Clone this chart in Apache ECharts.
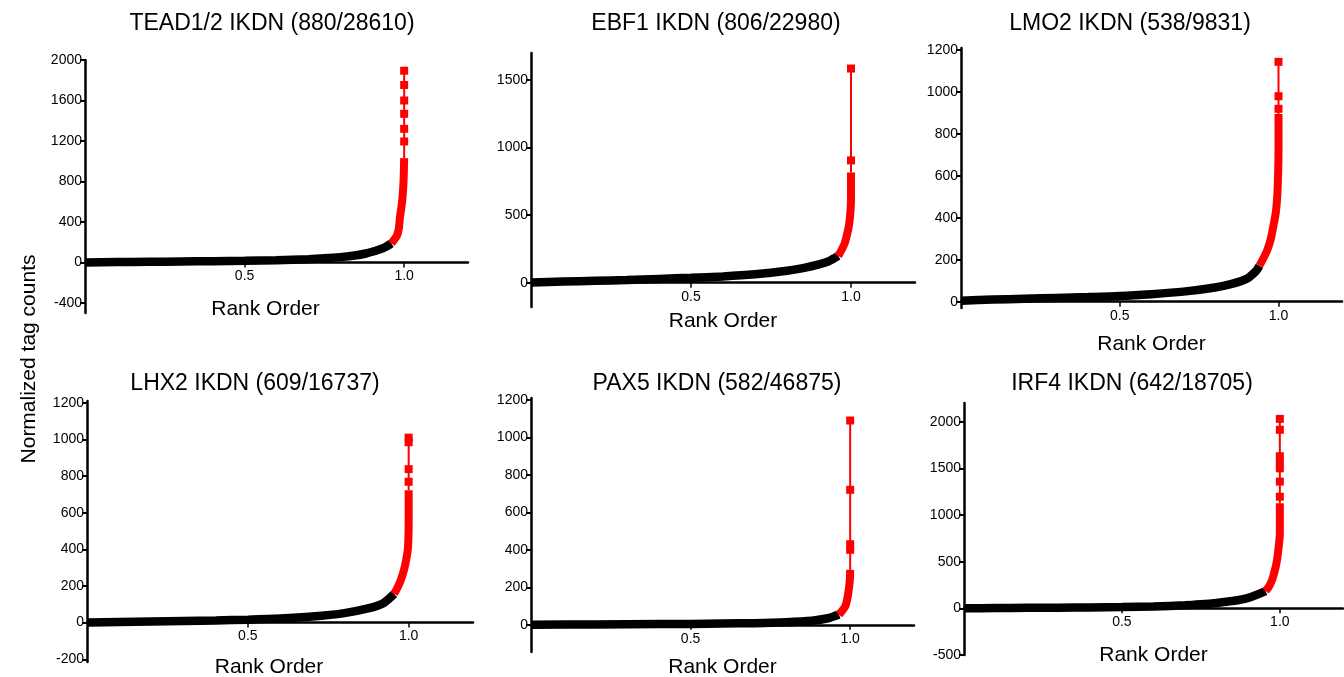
<!DOCTYPE html>
<html>
<head>
<meta charset="utf-8">
<title>IKDN rank order</title>
<script src="https://cdn.jsdelivr.net/npm/echarts@6/dist/echarts.min.js"></script>
<style>
  html, body { margin: 0; padding: 0; background: #fff; }
  #main { width: 1344px; height: 677px; }
</style>
</head>
<body>
<div id="main"></div>
<script>
// 六个面板的标题
const TITLES = [
    'TEAD1/2 IKDN (880/28610)',
    'EBF1 IKDN (806/22980)',
    'LMO2 IKDN (538/9831)',
    'LHX2 IKDN (609/16737)',
    'PAX5 IKDN (582/46875)',
    'IRF4 IKDN (642/18705)'
]

// x 轴刻度
const X_TICKS = [0.5, 1.0]

// y 轴刻度 (每个面板)
const Y_TICKS = [
    [-400, 0, 400, 800, 1200, 1600, 2000],
    [0, 500, 1000, 1500],
    [0, 200, 400, 600, 800, 1000, 1200],
    [-200, 0, 200, 400, 600, 800, 1000, 1200],
    [0, 200, 400, 600, 800, 1000, 1200],
    [-500, 0, 500, 1000, 1500, 2000]
]
const Y_RANGE = [[-500, 2000], [-180, 1700], [-30, 1210], [-215, 1210], [-145, 1210], [-500, 2200]]

// 黑色部分 [rank, count]
const teadBlack = [[0, 0], [0.1, 3], [0.2, 6], [0.3, 9], [0.4, 12], [0.5, 16], [0.6, 22], [0.7, 32], [0.75, 40], [0.8, 52], [0.85, 70], [0.88, 88], [0.9, 105], [0.92, 125], [0.94, 150], [0.96, 188]]
const ebf1Black = [[0, 2], [0.1, 8], [0.2, 14], [0.3, 20], [0.4, 28], [0.5, 36], [0.6, 46], [0.7, 62], [0.8, 88], [0.85, 108], [0.9, 135], [0.93, 158], [0.96, 198]]
const lmo2Black = [[0, 5], [0.1, 10], [0.2, 14], [0.3, 18], [0.4, 22], [0.5, 27], [0.6, 36], [0.7, 48], [0.8, 68], [0.85, 84], [0.9, 110], [0.93, 148], [0.94, 172]]
const lhx2Black = [[0, 0], [0.1, 3], [0.2, 6], [0.3, 9], [0.4, 12], [0.5, 16], [0.6, 22], [0.7, 33], [0.8, 52], [0.87, 76], [0.92, 105], [0.955, 157]]
const pax5Black = [[0, 0], [0.2, 2], [0.4, 4], [0.5, 5], [0.6, 7], [0.7, 9], [0.8, 14], [0.88, 22], [0.93, 35], [0.965, 55]]
const irf4Black = [[0, 0], [0.1, 3], [0.2, 5], [0.3, 7], [0.4, 10], [0.5, 14], [0.6, 20], [0.7, 32], [0.75, 43], [0.8, 58], [0.85, 78], [0.9, 112], [0.955, 185]]

// 红色部分 (top peaks)
const teadRed = [[0.96, 188], [0.97, 230], [0.977, 262], [0.983, 330], [0.987, 450], [0.992, 560], [0.995, 650], [0.998, 800], [1.0, 1030]]
const ebf1Red = [[0.96, 198], [0.97, 240], [0.98, 290], [0.988, 360], [0.994, 430], [0.998, 520], [1.0, 620], [1.0, 815]]
const lmo2Red = [[0.94, 172], [0.95, 200], [0.963, 240], [0.975, 295], [0.985, 370], [0.991, 420], [0.995, 480], [0.997, 530], [0.999, 620], [1.0, 710], [1.0, 895]]
const lhx2Red = [[0.955, 157], [0.965, 190], [0.975, 230], [0.985, 285], [0.992, 340], [0.998, 413], [1.0, 560], [1.0, 723]]
const pax5Red = [[0.965, 55], [0.975, 75], [0.985, 100], [0.99, 130], [0.995, 180], [0.999, 240], [1.0, 293]]
const irf4Red = [[0.955, 185], [0.965, 230], [0.975, 300], [0.982, 380], [0.988, 460], [0.993, 560], [0.997, 680], [1.0, 800], [1.0, 1125]]

// 最高的几个点 (方块)
const teadTop = [[1.0, 1030], [1.0, 1195], [1.0, 1320], [1.0, 1468], [1.0, 1600], [1.0, 1753], [1.0, 1894]]
const ebf1Top = [[1.0, 815], [1.0, 905], [1.0, 1585]]
const lmo2Top = [[1.0, 895], [1.0, 920], [1.0, 980], [1.0, 1144]]
const lhx2Top = [[1.0, 723], [1.0, 769], [1.0, 838], [1.0, 985], [1.0, 1010]]
const pax5Top = [[1.0, 293], [1.0, 400], [1.0, 430], [1.0, 720], [1.0, 1090]]
const irf4Top = [[1.0, 1125], [1.0, 1196], [1.0, 1358], [1.0, 1500], [1.0, 1570], [1.0, 1630], [1.0, 1913], [1.0, 2030]]

const BLACK = [teadBlack, ebf1Black, lmo2Black, lhx2Black, pax5Black, irf4Black]
const RED = [teadRed, ebf1Red, lmo2Red, lhx2Red, pax5Red, irf4Red]
const TOP = [teadTop, ebf1Top, lmo2Top, lhx2Top, pax5Top, irf4Top]

// 布局
const GRIDS = [
    { left: 85, top: 60, width: 383, height: 253 },
    { left: 531, top: 53, width: 384, height: 254 },
    { left: 961, top: 48, width: 381, height: 260 },
    { left: 87, top: 401, width: 386, height: 261 },
    { left: 531, top: 398, width: 383, height: 254 },
    { left: 964, top: 403, width: 379, height: 252 }
]
const TITLE_POS = [[272, 24], [716, 24], [1130, 24], [255, 384], [717, 384], [1132, 384]]
const NAME_GAP = [36, 28, 32, 34, 32, 36]
const FONT = '"Liberation Sans", Arial, Helvetica, sans-serif'

var chart = echarts.init(document.getElementById('main'))

var grid = [], xAxis = [], yAxis = [], series = [], graphic = []

for (let i = 0; i < 6; i++) {
    grid.push(Object.assign({ outerBoundsMode: 'none', containLabel: false }, GRIDS[i]))
    // x 轴放在 y=0 处 (用 offset 往上移)
    const zeroOffset = GRIDS[i].height * (0 - Y_RANGE[i][0]) / (Y_RANGE[i][1] - Y_RANGE[i][0])
    xAxis.push({
        type: 'value',
        gridIndex: i,
        position: 'bottom',
        offset: -zeroOffset,
        min: 0,
        max: 1.2,
        name: 'Rank Order',
        nameLocation: 'middle',
        nameGap: NAME_GAP[i],
        nameTextStyle: {
            fontSize: 21,
            color: '#000',
            fontFamily: FONT,
            padding: (i === 0 || i === 3) ? [0, 22, 0, 0] : 0
        },
        axisLine: { show: true, onZero: false, lineStyle: { color: '#000', width: 2.5 } },
        axisTick: { show: true, length: 5, lineStyle: { color: '#000', width: 1.5 }, customValues: X_TICKS },
        axisLabel: {
            fontSize: 14, color: '#000', fontFamily: FONT, margin: 7,
            customValues: X_TICKS,
            formatter: function (v) { return v.toFixed(1) }
        },
        splitLine: { show: false }
    })
    yAxis.push({
        type: 'value',
        gridIndex: i,
        min: Y_RANGE[i][0],
        max: Y_RANGE[i][1],
        axisLine: { show: true, onZero: false, lineStyle: { color: '#000', width: 2.5 } },
        axisTick: { show: true, length: 5, lineStyle: { color: '#000', width: 2 }, customValues: Y_TICKS[i] },
        axisLabel: {
            fontSize: 14, color: '#000', fontFamily: FONT, margin: 3,
            customValues: Y_TICKS[i],
            formatter: function (v) { return String(v) }
        },
        splitLine: { show: false }
    })
    // 黑色粗线
    series.push({
        type: 'line', xAxisIndex: i, yAxisIndex: i,
        data: BLACK[i], showSymbol: false, smooth: 0.25, clip: false,
        lineStyle: { color: '#000', width: 8.5 },
        silent: true
    })
    // 红色粗线
    series.push({
        type: 'line', xAxisIndex: i, yAxisIndex: i,
        data: RED[i], showSymbol: false, smooth: 0.25, clip: false,
        lineStyle: { color: '#ff0000', width: 8 },
        silent: true
    })
    // 顶部方块 + 细线
    series.push({
        type: 'line', xAxisIndex: i, yAxisIndex: i,
        data: TOP[i].slice(1), clip: false,
        symbol: 'rect', symbolSize: 8, showAllSymbol: true,
        itemStyle: { color: '#ff0000' },
        lineStyle: { color: '#ff0000', width: 2 },
        silent: true
    })
    series.push({
        type: 'line', xAxisIndex: i, yAxisIndex: i,
        data: TOP[i].slice(0, 2), showSymbol: false, clip: false,
        lineStyle: { color: '#ff0000', width: 2 },
        silent: true
    })
    graphic.push({
        type: 'text',
        x: TITLE_POS[i][0],
        y: TITLE_POS[i][1],
        style: {
            text: TITLES[i],
            fontSize: 23,
            fontFamily: FONT,
            fill: '#000',
            align: 'center',
            verticalAlign: 'middle'
        }
    })
}

// 左侧公共 y 轴标题
graphic.push({
    type: 'text',
    x: 29,
    y: 359,
    rotation: Math.PI / 2,
    style: {
        text: 'Normalized tag counts',
        fontSize: 21,
        fontFamily: FONT,
        fill: '#000',
        align: 'center',
        verticalAlign: 'middle'
    }
})

option = {
    backgroundColor: '#fff',
    animation: false,
    grid: grid,
    xAxis: xAxis,
    yAxis: yAxis,
    series: series,
    graphic: graphic
}
chart.setOption(option)
</script>
</body>
</html>
